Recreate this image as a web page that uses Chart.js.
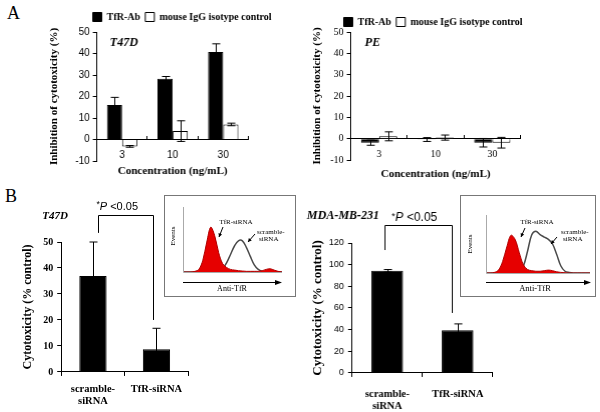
<!DOCTYPE html>
<html>
<head>
<meta charset="utf-8">
<script src="https://cdn.jsdelivr.net/npm/chart.js@4.4.1/dist/chart.umd.min.js"></script>
<style>
html, body { margin: 0; padding: 0; background: #fff; }
body { width: 600px; height: 412px; position: relative; overflow: hidden; font-family: 'Liberation Serif', serif; }
.wrap { position: absolute; }
.letter { position: absolute; font-size: 18px; line-height: 18px; color: #000; }
.inset { position: absolute; border: 1px solid #777; box-sizing: border-box; }
</style>
</head>
<body>
<div class="letter" style="left:7px;top:4px">A</div>
<div class="letter" style="left:5px;top:187px">B</div>
<div class="inset" style="left:164px;top:195px;width:132px;height:102px"></div>
<div class="inset" style="left:460px;top:195px;width:136px;height:102px"></div>

<script>
// ---- data ----
const concLabels = ['3', '10', '30'];
const seriesNames = ['TfR-Ab', 'mouse IgG isotype control'];

// A: inhibition of cytotoxicity (%)
const t47dTfR = [16, 28.2, 40.7];
const t47dTfRErr = [3.6, 1.1, 3.8];
const t47dIgG = [-3.2, 3.9, 7.0];
const t47dIgGErr = [0.4, 4.8, 0.6];
const peTfR = [-1.9, -0.4, -1.9];
const peTfRErr = [1.2, 0.9, 2.0];
const peIgG = [1.1, 0.5, -1.9];
const peIgGErr = [2.1, 1.2, 2.5];

// B: cytotoxicity (% control)
const siLabels = [['scramble-', 'siRNA'], 'TfR-siRNA'];
const t47dCyto = [36.9, 8.7];
const t47dCytoErr = [13.1, 8.1];
const mdaCyto = [94.3, 39.5];
const mdaCytoErr = [1.2, 5.8];

// inset histograms (relative units, 0-100)
const histX = [0, 4, 8, 12, 16, 20, 24, 28, 32, 36, 40, 44, 48, 52, 56, 60, 64, 68, 72, 76, 80, 84, 88, 92, 96, 100];
const t47dHistTfR = [0, 0, 0, 1, 4, 18, 46, 69, 56, 30, 13, 7, 4, 3, 2, 1.5, 1, 1, 1, 1, 2, 4, 5, 3, 1, 0];
const t47dHistScr = [0, 0, 0, 0, 0, 0, 0, 0, 0, 1, 5, 14, 27, 40, 48, 48, 38, 24, 11, 4, 1, 0, 0, 0, 0, 0];
const mdaHistTfR = [0, 0, 1, 5, 20, 45, 65, 58, 35, 14, 6, 4, 3, 3, 4, 5, 4, 2, 1, 0.5, 0, 0, 0, 0, 0, 0];
const mdaHistScr = [0, 0, 0, 0, 0, 0, 0, 0, 2, 12, 38, 66, 72, 66, 62, 58, 50, 32, 12, 3, 1, 0, 0, 0, 0, 0];

const SERIF = "'Liberation Serif', 'Times New Roman', serif";
const SANS = "'Liberation Sans', Arial, sans-serif";

Chart.defaults.font.family = SERIF;
Chart.defaults.color = '#000';

// error bars drawn from each dataset's "errors" array
const errorBars = {
  id: 'errorBars',
  afterDatasetsDraw(chart, args, o) {
    const y = chart.scales.y;
    const ctx = chart.ctx;
    const cap = o.cap || 4;
    ctx.save();
    ctx.strokeStyle = '#000';
    ctx.lineWidth = 1;
    chart.data.datasets.forEach((ds, i) => {
      if (!ds.errors) return;
      chart.getDatasetMeta(i).data.forEach((bar, j) => {
        const v = ds.data[j], e = ds.errors[j];
        const top = y.getPixelForValue(v + e), bot = y.getPixelForValue(v - e);
        const x = Math.round(bar.x) + 0.5;
        ctx.beginPath();
        ctx.moveTo(x, top); ctx.lineTo(x, bot);
        ctx.moveTo(x - cap, top); ctx.lineTo(x + cap, top);
        ctx.moveTo(x - cap, bot); ctx.lineTo(x + cap, bot);
        ctx.stroke();
      });
    });
    ctx.restore();
  }
};

// move the legend so its row is centred on a page point
const legendPlace = {
  id: 'legendPlace',
  afterLayout(chart, args, o) {
    const lg = chart.legend;
    if (!o.area || !lg || !lg.options.display) return;
    const a = chart.chartArea;
    const cx = a.left + (o.cx - o.area[0]);
    const cy = a.top + (o.cy - o.area[1]);
    const pad = lg.options.labels.padding;
    const dx = cx - (lg.left + lg.right) / 2;
    const dy = cy - (lg.top + pad + 5);
    lg.left += dx; lg.right += dx;
    lg.top += dy; lg.bottom += dy;
  }
};

// free text placed in page coordinates
const notes = {
  id: 'notes',
  afterDraw(chart, args, o) {
    if (!o.items) return;
    const {ctx, chartArea} = chart;
    const ox = chartArea.left - o.area[0], oy = chartArea.top - o.area[1];
    ctx.save();
    ctx.fillStyle = '#000';
    ctx.textBaseline = 'middle';
    o.items.forEach(it => {
      ctx.font = it.font;
      ctx.textAlign = it.align || 'left';
      ctx.save();
      ctx.translate(it.x + ox, it.y + oy);
      if (it.rot) ctx.rotate(it.rot);
      ctx.fillText(it.text, 0, 0);
      ctx.restore();
    });
    ctx.restore();
  }
};

// significance bracket between the two bars
const bracket = {
  id: 'bracket',
  afterDatasetsDraw(chart, args, o) {
    if (!o.levels) return;
    const {ctx, chartArea} = chart;
    const y = chart.scales.y;
    const bars = chart.getDatasetMeta(0).data;
    const x0 = Math.round(bars[0].x + o.dx[0]) + 0.5, x1 = Math.round(bars[1].x + o.dx[1]) + 0.5;
    const yt = Math.round(y.getPixelForValue(o.levels[1])) + 0.5;
    ctx.save();
    ctx.strokeStyle = '#000';
    ctx.lineWidth = 1;
    ctx.beginPath();
    ctx.moveTo(x0, y.getPixelForValue(o.levels[0]));
    ctx.lineTo(x0, yt);
    ctx.lineTo(x1, yt);
    ctx.lineTo(x1, y.getPixelForValue(o.levels[2]));
    ctx.stroke();
    // "*P<0.05"
    const cx = chartArea.left + (o.textX - o.area[0]);
    const cy = chartArea.top + (o.textY - o.area[1]);
    const s = o.size;
    const parts = [
      {t: '*', f: (s * 0.8) + 'px ' + SANS, dy: -2},
      {t: 'P', f: 'italic ' + s + 'px ' + SANS, dy: 0},
      {t: ' <0.05', f: s + 'px ' + SANS, dy: 0}
    ];
    let w = 0;
    parts.forEach(p => { ctx.font = p.f; p.w = ctx.measureText(p.t).width; w += p.w; });
    let x = cx - w / 2;
    ctx.fillStyle = '#000';
    ctx.textBaseline = 'middle';
    ctx.textAlign = 'left';
    parts.forEach(p => { ctx.font = p.f; ctx.fillText(p.t, x, cy + p.dy); x += p.w; });
    ctx.restore();
  }
};

// axes, arrow and labels of the flow-cytometry insets
const histDeco = {
  id: 'histDeco',
  afterDraw(chart, args, o) {
    if (!o.labels) return;
    const {ctx, chartArea: a} = chart;
    const px = v => a.left + (v - o.area[0]);
    const py = v => a.top + (v - o.area[1]);
    ctx.save();
    ctx.strokeStyle = '#aaa';
    ctx.lineWidth = 1;
    ctx.beginPath();
    ctx.moveTo(a.left + 0.5, a.top); ctx.lineTo(a.left + 0.5, a.bottom + 0.5);
    ctx.lineTo(a.right, a.bottom + 0.5);
    ctx.stroke();
    // arrow
    const ay = py(o.arrowY) + 0.5;
    ctx.strokeStyle = '#000';
    ctx.fillStyle = '#000';
    ctx.beginPath();
    ctx.moveTo(a.left, ay); ctx.lineTo(px(o.arrowEnd) - 5, ay);
    ctx.stroke();
    ctx.beginPath();
    ctx.moveTo(px(o.arrowEnd), ay); ctx.lineTo(px(o.arrowEnd) - 7, ay - 2.5); ctx.lineTo(px(o.arrowEnd) - 7, ay + 2.5);
    ctx.closePath(); ctx.fill();
    // pointer arrows
    o.pointers.forEach(p => {
      const x1 = px(p[0]), y1 = py(p[1]), x2 = px(p[2]), y2 = py(p[3]);
      const ang = Math.atan2(y2 - y1, x2 - x1);
      ctx.beginPath(); ctx.moveTo(x1, y1); ctx.lineTo(x2, y2); ctx.stroke();
      ctx.beginPath();
      ctx.moveTo(x2, y2);
      ctx.lineTo(x2 - 4 * Math.cos(ang - 0.5), y2 - 4 * Math.sin(ang - 0.5));
      ctx.lineTo(x2 - 4 * Math.cos(ang + 0.5), y2 - 4 * Math.sin(ang + 0.5));
      ctx.closePath(); ctx.fill();
    });
    ctx.textBaseline = 'middle';
    o.labels.forEach(l => {
      ctx.font = l.font;
      ctx.textAlign = l.align || 'left';
      ctx.save();
      ctx.translate(px(l.x), py(l.y));
      if (l.rot) ctx.rotate(l.rot);
      ctx.fillText(l.text, 0, 0);
      ctx.restore();
    });
    ctx.restore();
  }
};

Chart.register(errorBars, legendPlace, notes, bracket, histDeco);

// create a chart whose plot area lands on the given page rectangle
function build(area, config) {
  const wrap = document.createElement('div');
  wrap.className = 'wrap';
  wrap.style.left = (area[0] - 50) + 'px';
  wrap.style.top = (area[1] - 40) + 'px';
  wrap.style.width = (area[2] - area[0] + 100) + 'px';
  wrap.style.height = (area[3] - area[1] + 80) + 'px';
  document.body.appendChild(wrap);
  const canvas = document.createElement('canvas');
  wrap.appendChild(canvas);
  const o = config.options;
  o.responsive = true;
  o.maintainAspectRatio = false;
  o.animation = false;
  o.plugins = o.plugins || {};
  o.plugins.tooltip = {enabled: false};
  ['notes', 'bracket', 'histDeco', 'legendPlace'].forEach(k => { if (o.plugins[k]) o.plugins[k].area = area; });
  const chart = new Chart(canvas, config);
  for (let k = 0; k < 3; k++) {
    const a = chart.chartArea;
    wrap.style.left = (area[0] - a.left) + 'px';
    wrap.style.top = (area[1] - a.top) + 'px';
    wrap.style.width = (area[2] - area[0] + chart.width - (a.right - a.left)) + 'px';
    wrap.style.height = (area[3] - area[1] + chart.height - (a.bottom - a.top)) + 'px';
    chart.resize();
  }
  return chart;
}

function inhibitionChart(area, tfr, tfrErr, igg, iggErr, opt) {
  const midX = (area[0] + area[2]) / 2;
  return build(area, {
    type: 'bar',
    data: {
      labels: concLabels,
      datasets: [
        {label: seriesNames[0], data: tfr, errors: tfrErr, backgroundColor: '#000', borderColor: '#000', borderWidth: 1},
        {label: seriesNames[1], data: igg, errors: iggErr, backgroundColor: '#fff', borderColor: '#000', borderWidth: 1}
      ]
    },
    options: {
      datasets: {bar: {categoryPercentage: opt.catPct, barPercentage: 1}},
      layout: {padding: {left: 0, right: opt.padRight, top: 2, bottom: 24}},
      scales: {
        x: {
          position: {y: 0},
          grid: {drawOnChartArea: false, tickLength: -4, color: '#000', offset: true},
          border: {color: '#000'},
          ticks: {font: {family: opt.tickFont, size: 10}, color: '#000', padding: 14}
        },
        y: {
          min: -10, max: 50,
          ticks: {stepSize: 10, font: {family: opt.tickFont, size: 10}, color: '#000', padding: 3},
          grid: {drawOnChartArea: false, tickLength: 4, color: '#000'},
          border: {color: '#000'},
          title: {display: true, text: 'Inhibition of cytotoxicity (%)', color: '#000',
                  font: {family: SERIF, weight: 'bold', size: 11}, padding: 0},
          afterFit: s => { s.width = opt.titleGap + 6.6; }
        }
      },
      plugins: {
        legend: {labels: {boxWidth: 9, boxHeight: 9, padding: 5, color: '#000',
                          font: {family: SERIF, weight: 'bold', size: 10}}},
        legendPlace: {cx: opt.legendX, cy: opt.legendY},
        errorBars: {cap: 4},
        notes: {items: [
          {text: opt.cell, x: opt.cellX, y: 43, font: 'bold italic 12px ' + SERIF},
          {text: 'Concentration (ng/mL)', x: midX, y: opt.xTitleY, align: 'center', font: 'bold 11px ' + SERIF}
        ]}
      }
    }
  });
}

function cytoChart(area, vals, errs, opt) {
  return build(area, {
    type: 'bar',
    data: {
      labels: siLabels,
      datasets: [{label: 'Cytotoxicity', data: vals, errors: errs, backgroundColor: '#000', borderColor: '#000', borderWidth: 1}]
    },
    options: {
      datasets: {bar: {categoryPercentage: 1, barPercentage: opt.barPct}},
      layout: {padding: {left: 14, right: 6, top: 46, bottom: 2}},
      scales: {
        x: {
          grid: {drawOnChartArea: false, tickLength: 4, color: '#000', offset: true},
          border: {color: '#000'},
          ticks: {font: {family: SERIF, weight: 'bold', size: 10.5, lineHeight: 1.15}, color: '#000', padding: opt.xPad}
        },
        y: {
          min: 0, max: opt.max,
          ticks: {stepSize: opt.step, font: opt.tickFont, color: '#000', padding: 4},
          grid: {drawOnChartArea: false, tickLength: 4, color: '#000'},
          border: {color: '#000'},
          title: {display: true, text: 'Cytotoxicity (% control)', color: '#000',
                  font: {family: SERIF, weight: 'bold', size: opt.titleSize}, padding: 0},
          afterFit: s => { s.width = opt.titleGap + opt.titleSize * 0.6; }
        }
      },
      plugins: {
        legend: {display: false},
        errorBars: {cap: 4},
        bracket: {levels: opt.levels, dx: opt.dx, textX: opt.textX, textY: opt.textY, size: opt.pSize},
        notes: {items: [{text: opt.cell, x: opt.cellX, y: 216, font: 'bold italic ' + opt.cellSize + 'px ' + SERIF}]}
      }
    }
  });
}

function histChart(area, tfr, scr, deco) {
  return build(area, {
    type: 'line',
    data: {
      datasets: [
        {label: 'TfR-siRNA', data: histX.map((x, i) => ({x, y: tfr[i]})), fill: 'origin',
         backgroundColor: '#e60000', borderColor: '#b00000', borderWidth: 1, pointRadius: 0, tension: 0.35},
        {label: 'scramble-siRNA', data: histX.map((x, i) => ({x, y: scr[i]})), fill: false,
         borderColor: '#4a4a4a', borderWidth: 1.5, pointRadius: 0, tension: 0.35}
      ]
    },
    options: {
      layout: {padding: {left: 22, right: 14, top: 6, bottom: 26}},
      scales: {
        x: {type: 'linear', min: 0, max: 100, display: false},
        y: {min: 0, max: 100, display: false}
      },
      plugins: {legend: {display: false}, histDeco: deco}
    }
  });
}

// ---- panel A ----
inhibitionChart([97, 32, 248, 161], t47dTfR, t47dTfRErr, t47dIgG, t47dIgGErr,
  {catPct: 0.6, padRight: 30, titleGap: 42, legendX: 182, legendY: 17, xTitleY: 171, tickFont: SANS, cell: 'T47D', cellX: 110});
inhibitionChart([351, 32, 520, 160], peTfR, peTfRErr, peIgG, peIgGErr,
  {catPct: 0.64, padRight: 12, titleGap: 33, legendX: 433, legendY: 22, xTitleY: 174, tickFont: SERIF, cell: 'PE', cellX: 365});

// ---- panel B ----
cytoChart([61, 242, 188, 372], t47dCyto, t47dCytoErr,
  {barPct: 0.43, max: 50, step: 10, tickFont: {family: SERIF, weight: 'bold', size: 10}, titleSize: 12, titleGap: 33,
   xPad: 7, levels: [53.5, 60.5, 20], dx: [5, -3], textX: 117, textY: 207, pSize: 11, cell: 'T47D', cellX: 42, cellSize: 11});
cytoChart([352, 243, 492, 373], mdaCyto, mdaCytoErr,
  {barPct: 0.45, max: 120, step: 20, tickFont: {family: SANS, size: 9}, titleSize: 13, titleGap: 34,
   xPad: 11, levels: [113.5, 136.6, 55.4], dx: [-3, -6], textX: 414, textY: 218, pSize: 12, cell: 'MDA-MB-231', cellX: 307, cellSize: 12});

// ---- insets ----
histChart([183, 207, 282, 272], t47dHistTfR, t47dHistScr, {
  arrowY: 282, arrowEnd: 282,
  pointers: [[223, 227, 219, 237], [255, 234, 248, 242]],
  labels: [
    {text: 'Events', x: 173, y: 236, rot: -Math.PI / 2, align: 'center', font: '7px ' + SERIF},
    {text: 'Anti-TfR', x: 232, y: 289, align: 'center', font: '8px ' + SERIF},
    {text: 'TfR-siRNA', x: 236, y: 222, align: 'center', font: '7px ' + SERIF},
    {text: 'scramble-', x: 257, y: 232, font: '7px ' + SERIF},
    {text: 'siRNA', x: 259, y: 239, font: '7px ' + SERIF}
  ]
});
histChart([486, 215, 590, 273], mdaHistTfR, mdaHistScr, {
  arrowY: 282, arrowEnd: 591,
  pointers: [[525, 228, 521, 237], [557, 237, 551, 244]],
  labels: [
    {text: 'Events', x: 470, y: 244, rot: -Math.PI / 2, align: 'center', font: '7px ' + SERIF},
    {text: 'Anti-TfR', x: 535, y: 289, align: 'center', font: '8.5px ' + SERIF},
    {text: 'TfR-siRNA', x: 537, y: 222, align: 'center', font: '7px ' + SERIF},
    {text: 'scramble-', x: 561, y: 232, font: '7px ' + SERIF},
    {text: 'siRNA', x: 563, y: 239, font: '7px ' + SERIF}
  ]
});
</script>
</body>
</html>
